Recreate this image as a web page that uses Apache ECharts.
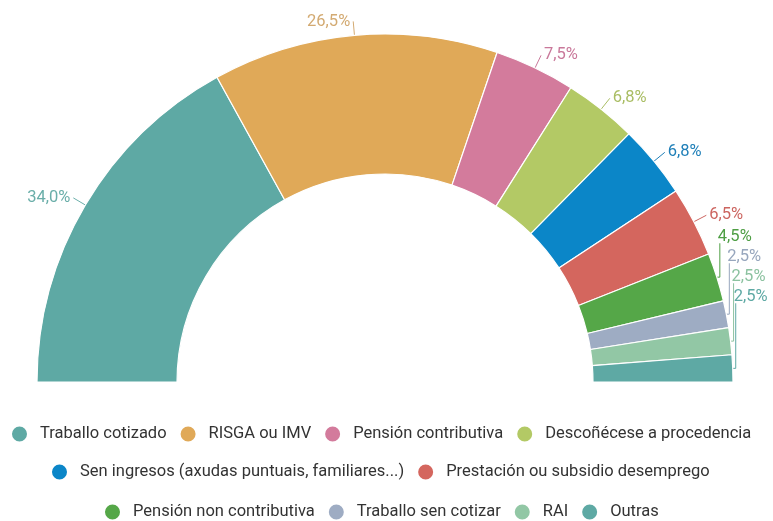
<!DOCTYPE html>
<html><head><meta charset="utf-8">
<script src="https://cdn.jsdelivr.net/npm/echarts@6/dist/echarts.min.js"></script>
<style>html,body{margin:0;padding:0;background:#fff}#c{width:773px;height:521px}</style>
</head><body><div id="c"></div>
<script>
var categories = ["Traballo cotizado","RISGA ou IMV","Pensión contributiva","Descoñécese a procedencia","Sen ingresos (axudas puntuais, familiares...)","Prestación ou subsidio desemprego","Pensión non contributiva","Traballo sen cotizar","RAI","Outras"];
var values = [34.0, 26.5, 7.5, 6.8, 6.8, 6.5, 4.5, 2.5, 2.5, 2.5];
var colors = ["#5ea9a4","#e0a958","#d37b9c","#b3c965","#0b86c8","#d4665e","#55a748","#9eacc3","#92c7a5","#5ea9a4"];
var labelColors = ["#6aaea9","#d3aa72","#c9789a","#a9bd63","#1f7fb8","#cc6560","#4e9e44","#97a6bd","#8cc2a0","#5ea9a4"];
var legendRows = [[0,1,2,3],[4,5],[6,7,8,9]];
var legendTops = [419.5, 457.5, 497.5];
var firstStacked = 6; // small slices whose labels are stacked under the previous one

var LEG_FONT = '16.5px Roboto', ICON = 17, GAP = 12, TXT_PAD = 7, LEG_CENTER = 379;
var ctx = document.createElement('canvas').getContext('2d');
ctx.font = LEG_FONT;
function rowLeft(r){
  var w = 0;
  r.forEach(function(i,k){ w += ICON + 5 + TXT_PAD + ctx.measureText(categories[i]).width + (k ? GAP : 0); });
  return Math.round(LEG_CENTER - w/2 - 5);
}
var data = categories.map(function(c,i){
  return {name:c, value:values[i], itemStyle:{color:colors[i]}, label:{color:labelColors[i]}, labelLine:{lineStyle:{color:labelColors[i]}}};
});
var legends = legendRows.map(function(r,k){
  return {
    data: r.map(function(i){return categories[i];}),
    top: legendTops[k], left: rowLeft(r), orient:'horizontal',
    icon:'circle', itemWidth:ICON, itemHeight:ICON, itemGap:GAP,
    textStyle:{fontFamily:'Roboto', fontSize:16.5, color:'#333', padding:[0,0,0,TXT_PAD]}
  };
});
var prevBottom = null;
function layoutLabel(p){
  var r = p.labelRect;
  if (p.dataIndex < firstStacked) {
    prevBottom = r.y + r.height + 3;
    return {};
  }
  var step = r.height + 3;
  var a = p.labelLinePoints[0];
  var cy = prevBottom + step/2;
  prevBottom = prevBottom + step;
  var lx = a[0] + 3;
  return {
    x: a[0] + 1, y: cy, align:'left', verticalAlign:'middle',
    labelLinePoints: [[a[0], a[1]], [lx, a[1]], [lx, cy + r.height/2 - 2]]
  };
}
var chart = echarts.init(document.getElementById('c'), null, {renderer:'canvas'});
chart.setOption({
  animation:false,
  legend: legends,
  series:[{
    type:'pie',
    left:0, top:0, width:773, height:521,
    center:[385,382],
    radius:[208,348],
    startAngle:180, endAngle:360,
    itemStyle:{borderColor:'#fff', borderWidth:1.2},
    label:{show:true, fontFamily:'Roboto', fontSize:16.5, overflow:'none', distanceToLabelLine:3,
      formatter:function(p){return p.value.toFixed(1).replace('.',',')+'%';}},
    labelLine:{show:true, length:14, length2:0, lineStyle:{width:1}},
    labelLayout: layoutLabel,
    data:data
  }]
});
</script></body></html>
